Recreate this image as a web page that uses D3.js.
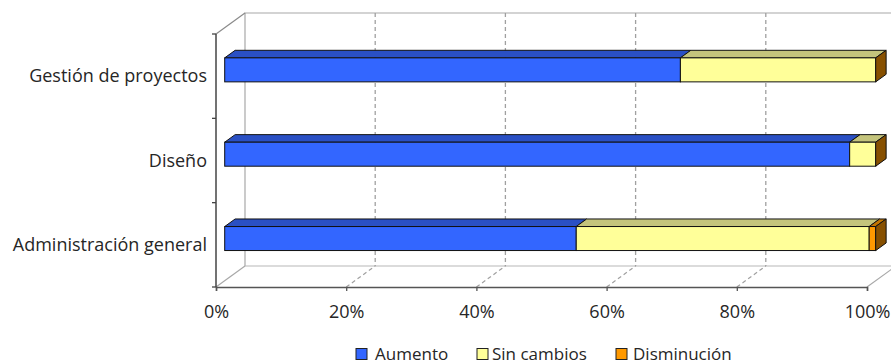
<!DOCTYPE html>
<html>
<head>
<meta charset="utf-8">
<script src="https://cdn.jsdelivr.net/npm/d3@7"></script>
<style>
  html, body { margin: 0; padding: 0; background: #fff; }
  svg { display: block; font-family: "Open Sans", Lato, sans-serif; }
</style>
</head>
<body>
<svg id="chart" width="891" height="363"></svg>
<script>
// Categories, from top to bottom
const categories = ["Gestión de proyectos", "Diseño", "Administración general"];
// Stacked series values (percent of responses)
const seriesNames = ["Aumento", "Sin cambios", "Disminución"];
const aumento     = [70, 96, 54];
const sinCambios  = [30, 4, 45];
const disminucion = [0, 0, 1];
const xTicks = [0, 20, 40, 60, 80, 100];
const tickLabels = ["0%", "20%", "40%", "60%", "80%", "100%"];

const frontColors = ["#3366FF", "#FFFF99", "#FF9900"];
const topColors   = ["#2A50C4", "#C4C47C", "#C27400"];
const capColor    = "#875000";
const FONT = "'Open Sans', Lato, sans-serif";
const TEXT = "#262626";

const svg = d3.select("#chart");

// front plane of the plot
const x = d3.scaleLinear().domain([0, 100]).range([216, 867]);
const y = d3.scaleBand().domain(categories).range([34, 287]);
// perspective offset from the front plane to the back wall
const D = { x: 29, y: -21 };
const barFront = 0.30, barBack = 0.66;
const barH = 24;

// back wall
const g = svg.append("g");
g.append("path")
  .attr("d", `M${x(0) + D.x},${y.range()[1] + D.y} V${y.range()[0] + D.y} H${891}`)
  .attr("fill", "none").attr("stroke", "#A8A8A8").attr("stroke-width", 1.2);
g.append("line")
  .attr("x1", x(0) + D.x).attr("x2", 891)
  .attr("y1", y.range()[1] + D.y).attr("y2", y.range()[1] + D.y)
  .attr("stroke", "#B8B8B8").attr("stroke-width", 1.2);
// top-left connector
g.append("line")
  .attr("x1", x(0)).attr("y1", y.range()[0])
  .attr("x2", x(0) + D.x).attr("y2", y.range()[0] + D.y)
  .attr("stroke", "#8a8a8a").attr("stroke-width", 1.2);

// gridlines on the back wall and across the floor
const inner = xTicks.slice(1, -1);
g.selectAll(".grid-v").data(inner).enter().append("line")
  .attr("x1", d => x(d) + D.x).attr("x2", d => x(d) + D.x)
  .attr("y1", y.range()[0] + D.y).attr("y2", y.range()[1] + D.y)
  .attr("stroke", "#A0A0A0").attr("stroke-width", 1.3).attr("stroke-dasharray", "4,3");
g.selectAll(".grid-f").data(inner).enter().append("line")
  .attr("x1", d => x(d)).attr("y1", y.range()[1])
  .attr("x2", d => x(d) + D.x).attr("y2", y.range()[1] + D.y)
  .attr("stroke", "#A0A0A0").attr("stroke-width", 1.2).attr("stroke-dasharray", "4,3");
// floor edges
[0, 100].forEach(v => {
  g.append("line")
    .attr("x1", x(v)).attr("y1", y.range()[1])
    .attr("x2", x(v) + D.x).attr("y2", y.range()[1] + D.y)
    .attr("stroke", "#A8A8A8").attr("stroke-width", 1.2);
});

// value axis along the front of the floor
const xAxis = d3.axisBottom(x).tickValues(xTicks).tickSize(4).tickFormat((d, i) => tickLabels[i]);
const xa = svg.append("g").attr("transform", `translate(0,${y.range()[1]})`).call(xAxis);
xa.select(".domain").attr("stroke", "#555").attr("stroke-width", 1.5);
xa.selectAll(".tick line").attr("stroke", "#555").attr("stroke-width", 1.3);
xa.selectAll(".tick text").attr("font-size", 18).attr("fill", TEXT)
  .attr("font-family", FONT).attr("y", 31).attr("dy", 0);

// category axis on the left
const yEdges = categories.map(c => y(c)).concat([y.range()[1]]);
svg.append("line").attr("x1", x(0)).attr("x2", x(0))
  .attr("y1", y.range()[0]).attr("y2", y.range()[1])
  .attr("stroke", "#444").attr("stroke-width", 1.5);
svg.selectAll(".ytick").data(yEdges).enter().append("line")
  .attr("x1", x(0) - 4).attr("x2", x(0)).attr("y1", d => d).attr("y2", d => d)
  .attr("stroke", "#444").attr("stroke-width", 1.3);
svg.selectAll(".ylab").data(categories).enter().append("text")
  .attr("x", x(0) - 9).attr("y", d => y(d) + y.bandwidth() / 2 + 6)
  .attr("text-anchor", "end")
  .attr("font-size", 18).attr("fill", TEXT).text(d => d);

// 3D stacked bars
const fx = barFront * D.x, fy = barFront * D.y;
const ddx = (barBack - barFront) * D.x, ddy = (barBack - barFront) * D.y;
const seriesVals = [aumento, sinCambios, disminucion];
const bars = svg.append("g");
categories.forEach((cat, ci) => {
  const cy = y(cat) + y.bandwidth() / 2 + fy;
  const yTop = cy - barH / 2, yBot = cy + barH / 2;
  let acc = 0;
  const bg = bars.append("g");
  seriesVals.forEach((vals, si) => {
    const v = vals[ci];
    const x0 = x(acc) + fx, x1 = x(acc + v) + fx;
    acc += v;
    if (v <= 0) return;
    bg.append("path")
      .attr("d", `M${x0},${yTop} L${x1},${yTop} L${x1 + ddx},${yTop + ddy} L${x0 + ddx},${yTop + ddy} Z`)
      .attr("fill", topColors[si]).attr("stroke", "#111").attr("stroke-width", 1).attr("stroke-linejoin", "round");
    bg.append("rect")
      .attr("x", x0).attr("y", yTop).attr("width", x1 - x0).attr("height", yBot - yTop)
      .attr("fill", frontColors[si]).attr("stroke", "#111").attr("stroke-width", 1);
  });
  const xe = x(acc) + fx;
  bg.append("path")
    .attr("d", `M${xe},${yTop} L${xe + ddx},${yTop + ddy} L${xe + ddx},${yBot + ddy} L${xe},${yBot} Z`)
    .attr("fill", capColor).attr("stroke", "#111").attr("stroke-width", 1).attr("stroke-linejoin", "round");
});

// legend
const legendBox = [356, 477, 616];
const legendText = [375, 492, 633];
const lg = svg.append("g");
seriesNames.forEach((name, i) => {
  lg.append("rect").attr("x", legendBox[i]).attr("y", 348.5).attr("width", 11).attr("height", 11)
    .attr("fill", frontColors[i]).attr("stroke", "#222").attr("stroke-width", 1);
  lg.append("text").attr("x", legendText[i]).attr("y", 359.5)
    .attr("font-size", 17).attr("fill", TEXT).text(name);
});
</script>
</body>
</html>
